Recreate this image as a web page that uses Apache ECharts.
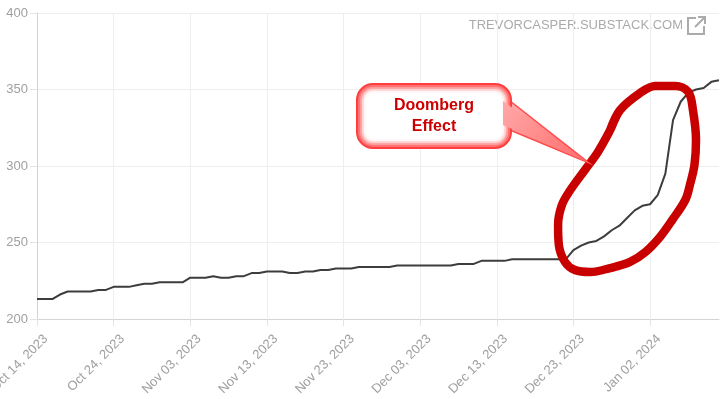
<!DOCTYPE html>
<html>
<head>
    <meta charset="utf-8">
    <title>Doomberg Effect</title>
    <script src="https://cdn.jsdelivr.net/npm/echarts@6/dist/echarts.min.js"></script>
    <style>
        html, body { margin: 0; padding: 0; background: #fff; }
        #chart1 { width: 723px; height: 399px; }
    </style>
</head>
<body>
<div id="chart1"></div>
<script type="text/javascript">
    // daily values, Oct 14 2023 -> Jan 11 2024
    var startDay = [2023, 9, 14];
    var dayCount = 90;
    var values = [
        213, 213, 213, 216, 218, 218, 218, 218, 219, 219,
        221, 221, 221, 222, 223, 223, 224, 224, 224, 224,
        227, 227, 227, 228, 227, 227, 228, 228, 230, 230,
        231, 231, 231, 230, 230, 231, 231, 232, 232, 233,
        233, 233, 234, 234, 234, 234, 234, 235, 235, 235,
        235, 235, 235, 235, 235, 236, 236, 236, 238, 238,
        238, 238, 239, 239, 239, 239, 239, 239, 239, 239,
        245, 248, 250, 251, 254, 258, 261, 266, 271, 274,
        275, 281, 295, 330, 342, 348, 350, 351, 355, 356
    ];
    var yTicks = [200, 250, 300, 350, 400];
    // hand-drawn red loop, in (day index, value)
    var loopX = [74.8, 76.1, 78.7, 80.7, 83.3, 85.0, 85.6, 86.0, 85.8, 85.2, 84.6, 82.9, 81.3, 79.4, 77.4, 74.8, 72.2, 70.2, 68.9, 68.1, 68.0, 68.5, 69.6, 71.5, 73.2, 74.8, 76.1, 78.7];
    var loopY = [323.5, 336.6, 347.7, 352.3, 352.3, 348.4, 336.6, 317, 300.7, 287.6, 277.8, 264.7, 253.6, 243.8, 237.3, 233.3, 230.7, 232, 237.3, 248.4, 261.4, 274.5, 284.3, 297.4, 309.2, 323.5, 336.6, 347.7];
    var noteText = 'Doomberg\nEffect';
    var sourceText = 'TREVORCASPER.SUBSTACK.COM';

    var monthNames = ['Jan', 'Feb', 'Mar', 'Apr', 'May', 'Jun', 'Jul', 'Aug', 'Sep', 'Oct', 'Nov', 'Dec'];
    var dates = [];
    var t0 = Date.UTC(startDay[0], startDay[1], startDay[2]);
    for (var i = 0; i < dayCount; i++) {
        var d = new Date(t0 + i * 86400000);
        var dd = d.getUTCDate();
        dates.push(monthNames[d.getUTCMonth()] + ' ' + (dd < 10 ? '0' + dd : dd) + ', ' + d.getUTCFullYear());
    }
    var loopData = loopX.map(function (x, k) { return [x, loopY[k]]; });

    // callout box: pink edge fading to white inside
    var box = { x: 357, y: 84, w: 154, h: 64 };
    var glow = [];
    var steps = [[3, 0.25], [5, 0.45], [7, 0.65], [9, 0.82], [11, 0.95], [13, 1]];
    steps.forEach(function (s) {
        glow.push({
            type: 'rect',
            shape: { x: box.x + s[0], y: box.y + s[0], width: box.w - 2 * s[0], height: box.h - 2 * s[0], r: Math.max(16 - s[0], 4) },
            style: { fill: 'rgba(255,255,255,' + s[1] + ')', shadowBlur: 4, shadowColor: 'rgba(255,255,255,' + s[1] + ')' },
            z: 12
        });
    });

    var font = "'Liberation Sans', Arial, sans-serif";
    var myChart1 = echarts.init(document.getElementById('chart1'));
    myChart1.setOption({
        animation: false,
        backgroundColor: '#fff',
        grid: { left: 37, right: 4, top: 13, bottom: 80, containLabel: false, outerBoundsMode: 'none' },
        xAxis: [{
            type: 'category',
            data: dates,
            boundaryGap: false,
            axisLine: { lineStyle: { color: '#d4d4d4' } },
            axisTick: { show: true, interval: 9, length: 7, lineStyle: { color: '#e4e4e4' } },
            axisLabel: {
                interval: 9, rotate: 45, color: '#a0a0a0', fontSize: 13, fontFamily: font,
                margin: 9, verticalAlign: 'top', padding: [6, 0, 0, 0]
            },
            splitLine: { show: true, interval: 9, lineStyle: { color: '#eeeeee' } }
        }, {
            type: 'value',
            min: 0,
            max: dayCount - 1,
            show: false
        }],
        yAxis: {
            type: 'value',
            min: yTicks[0],
            max: yTicks[yTicks.length - 1],
            interval: 50,
            axisLine: { show: true, lineStyle: { color: '#d4d4d4' } },
            axisTick: { show: true, length: 7, lineStyle: { color: '#e4e4e4' } },
            axisLabel: { color: '#a0a0a0', fontSize: 13, fontFamily: font, margin: 9 },
            splitLine: { lineStyle: { color: '#eeeeee' } }
        },
        series: [{
            type: 'line',
            data: values,
            symbol: 'none',
            lineStyle: { color: '#3d3d3d', width: 2 },
            z: 2
        }, {
            type: 'line',
            xAxisIndex: 1,
            data: loopData,
            symbol: 'none',
            smooth: 0.35,
            lineStyle: { color: '#c80000', width: 8.5, cap: 'round', join: 'round' },
            z: 3
        }],
        graphic: [{
            type: 'text',
            right: 40,
            top: 19,
            style: { text: sourceText, fill: '#ababab', fontSize: 13, fontFamily: font }
        }, {
            type: 'polyline',
            shape: { points: [[696, 18], [688, 18], [688, 34], [704, 34], [704, 26]] },
            style: { stroke: '#ababab', lineWidth: 2, fill: null }
        }, {
            type: 'polyline',
            shape: { points: [[695, 27], [704, 18]] },
            style: { stroke: '#ababab', lineWidth: 2, fill: null }
        }, {
            type: 'polyline',
            shape: { points: [[698, 17], [705, 17], [705, 24]] },
            style: { stroke: '#ababab', lineWidth: 2, fill: null }
        }, {
            type: 'polygon',
            shape: { points: [[505, 97], [589, 163], [505, 128]] },
            style: {
                fill: new echarts.graphic.LinearGradient(0, 0, 1, 1, [
                    { offset: 0, color: '#ffb0b0' }, { offset: 1, color: '#ff5f5f' }
                ]),
                stroke: '#ff4a4a', lineWidth: 1.5
            },
            z: 10
        }, {
            type: 'rect',
            shape: { x: box.x, y: box.y, width: box.w, height: box.h, r: 16 },
            style: { fill: '#ff6c6c', stroke: '#ff3c3c', lineWidth: 2 },
            z: 11
        }].concat(glow).concat([{
            type: 'polygon',
            shape: { points: [[503, 101], [589, 163], [503, 125]] },
            style: {
                fill: new echarts.graphic.LinearGradient(0, 0, 1, 1, [
                    { offset: 0, color: '#ffa8a8' }, { offset: 1, color: '#ff6a6a' }
                ])
            },
            z: 12
        }, {
            type: 'text',
            x: 434,
            y: 116,
            style: {
                text: noteText, fill: '#cc0000', fontSize: 16, fontWeight: 'bold', fontFamily: font,
                align: 'center', verticalAlign: 'middle', lineHeight: 21
            },
            z: 13
        }])
    });
</script>
</body>
</html>
